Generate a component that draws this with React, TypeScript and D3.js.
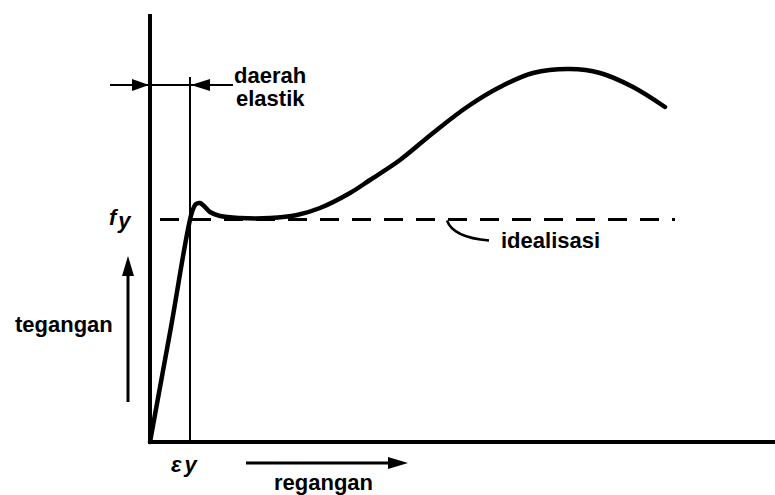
import * as d3 from 'd3'

// stress-strain curve (arbitrary units)
const strain = [0, 2.1, 4.2, 4.6, 5.0, 5.4, 6.0, 7.0, 9.0, 12.0, 14.7, 17.0, 20.0, 22.0, 25.0, 28.3, 31.7, 35.0, 38.3, 42.0, 45.0, 48.3, 51.5]
const stress = [0, 11.5, 23.0, 23.8, 23.9, 23.6, 23.0, 22.6, 22.4, 22.4, 22.7, 23.4, 24.9, 26.2, 28.2, 30.9, 33.5, 35.5, 36.9, 37.3, 36.9, 35.5, 33.5]

const yieldStress = 22.25
const yieldStrain = 4.0
const idealEnd = 52.5

const labels = {
  stress: 'tegangan',
  strain: 'regangan',
  elastic: ['daerah', 'elastik'],
  ideal: 'idealisasi',
}

const width = 775
const height = 495
const font = '"Liberation Sans", Arial, sans-serif'

export default function App() {
  const x = d3.scaleLinear([0, 62.5], [150, 775])
  const y = d3.scaleLinear([0, 42.8], [442, 14])

  const line = d3
    .line<number>()
    .x((_, i) => x(strain[i]))
    .y((d) => y(d))
    .curve(d3.curveCatmullRom.alpha(0.5))

  const dimY = 85
  const leaderX = x(29.7)

  return (
    <svg
      width={width}
      height={height}
      style={{ position: 'absolute', left: 0, top: 0, background: '#fff' }}
      fontFamily={font}
    >
      {/* axes */}
      <line x1={x(0)} x2={x(0)} y1={y(0) + 2} y2={y(42.8)} stroke="#000" strokeWidth={4} />
      <line x1={x(0) - 2} x2={x(62.5)} y1={y(0)} y2={y(0)} stroke="#000" strokeWidth={4} />

      {/* yield strain line */}
      <line x1={x(yieldStrain)} x2={x(yieldStrain)} y1={y(0)} y2={77} stroke="#000" strokeWidth={2} />

      {/* idealised yield line */}
      <line
        x1={x(1.0)}
        x2={x(idealEnd)}
        y1={y(yieldStress)}
        y2={y(yieldStress)}
        stroke="#000"
        strokeWidth={3}
        strokeDasharray="19 13"
      />

      {/* curve */}
      <path d={line(stress) ?? ''} fill="none" stroke="#000" strokeWidth={4.5} strokeLinejoin="round" strokeLinecap="round" />

      {/* elastic range dimension */}
      <line x1={110} x2={233} y1={dimY} y2={dimY} stroke="#000" strokeWidth={2} />
      <path d={`M${x(0) - 1},${dimY} L${x(0) - 18},${dimY - 6} L${x(0) - 18},${dimY + 6} Z`} fill="#000" />
      <path d={`M${x(yieldStrain) + 1},${dimY} L${x(yieldStrain) + 20},${dimY - 6} L${x(yieldStrain) + 20},${dimY + 6} Z`} fill="#000" />
      <text x={234} y={83} fontSize={22} fontWeight="bold">{labels.elastic[0]}</text>
      <text x={236} y={106} fontSize={22} fontWeight="bold">{labels.elastic[1]}</text>

      {/* idealisasi leader */}
      <path
        d={`M${leaderX},${y(yieldStress) + 1} Q${leaderX + 6},${y(yieldStress) + 18} ${leaderX + 42},${y(yieldStress) + 21}`}
        fill="none"
        stroke="#000"
        strokeWidth={2.5}
      />
      <text x={501} y={248} fontSize={22} fontWeight="bold">{labels.ideal}</text>

      {/* fy / εy */}
      <text x={109} y={225} fontSize={22} fontWeight="bold" fontStyle="italic">
        f<tspan dx={2} dy={3}>y</tspan>
      </text>
      <text x={171} y={472} fontSize={22} fontWeight="bold" fontStyle="italic">
        ε<tspan dx={3}>y</tspan>
      </text>

      {/* stress arrow */}
      <line x1={128} x2={128} y1={402} y2={272} stroke="#000" strokeWidth={3} />
      <path d="M128,256 L122,276 L134,276 Z" fill="#000" />
      <text x={15} y={332} fontSize={22} fontWeight="bold">{labels.stress}</text>

      {/* strain arrow */}
      <line x1={246} x2={392} y1={463} y2={463} stroke="#000" strokeWidth={3} />
      <path d="M408,463 L388,457 L388,469 Z" fill="#000" />
      <text x={274} y={490} fontSize={22} fontWeight="bold">{labels.strain}</text>
    </svg>
  )
}
